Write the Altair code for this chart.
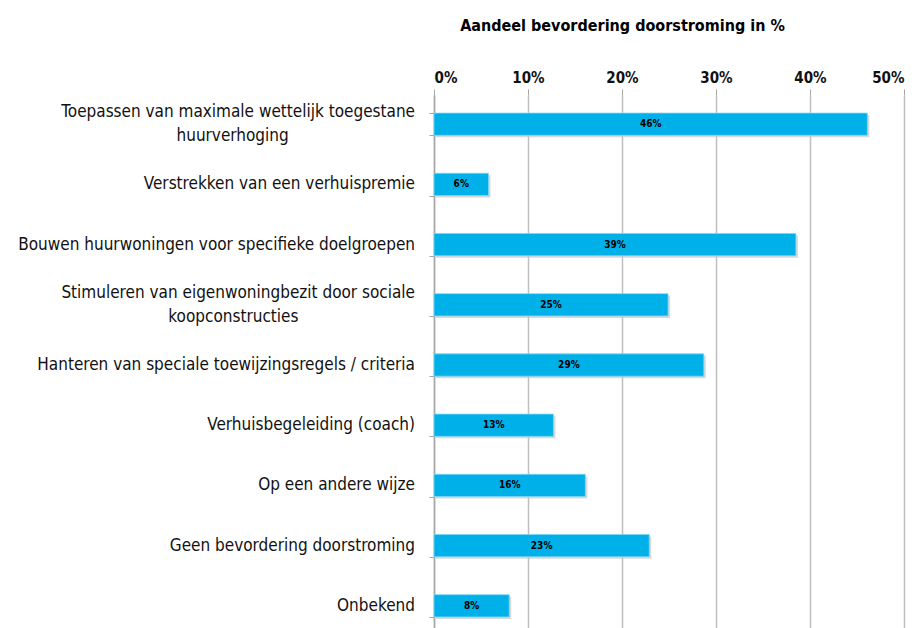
import altair as alt
import pandas as pd

categories = [
    "Toepassen van maximale wettelijk toegestane|huurverhoging",
    "Verstrekken van een verhuispremie",
    "Bouwen huurwoningen voor specifieke doelgroepen",
    "Stimuleren van eigenwoningbezit door sociale|koopconstructies",
    "Hanteren van  speciale toewijzingsregels / criteria",
    "Verhuisbegeleiding (coach)",
    "Op een andere wijze",
    "Geen bevordering doorstroming",
    "Onbekend",
]
values = [46.1, 5.8, 38.5, 24.9, 28.7, 12.7, 16.1, 22.9, 8.0]
labels = ["46%", "6%", "39%", "25%", "29%", "13%", "16%", "23%", "8%"]

df = pd.DataFrame({"cat": categories, "val": values, "lab": labels})
df["mid"] = df["val"] / 2

FONT = "DejaVu Sans Condensed"
NBS = "\u00a0" * 80
ZW = "\u200b"

l1 = "split(datum.cat,'|')[0]"
l2 = "split(datum.cat,'|')[1]"
two_line_expr = (
    f"{l1} + '|' + {l2} + substring('{NBS}', 0, round((length({l1}) - length({l2})) / 2 * 1.7)) + '{ZW}'"
)

yscale = alt.Scale(paddingInner=0.63, paddingOuter=0.3)

y = alt.Y(
    "cat:N",
    sort=categories,
    scale=yscale,
    axis=alt.Axis(
        title=None,
        labels=False,
        tickBand="extent",
        tickSize=5,
        tickColor="#A6A6A6",
        domainColor="#A6A6A6",
        domainWidth=1.5,
        grid=False,
    ),
)

xenc = alt.X(
    "val:Q",
    scale=alt.Scale(domain=[0, 50], nice=False),
    axis=alt.Axis(
        orient="top",
        values=[0, 10, 20, 30, 40, 50],
        labelExpr="datum.value + '%'",
        labelFont=FONT,
        labelFontSize=15,
        labelFontWeight=600,
        labelColor="#111111",
        labelPadding=4,
        tickSize=6,
        tickColor="#A6A6A6",
        domain=False,
        grid=True,
        gridColor="#BFBFBF",
        gridWidth=1.5,
        title="Aandeel bevordering doorstroming in %",
        titleFont=FONT,
        titleFontSize=16,
        titleFontWeight="bold",
        titleColor="#000000",
        titleX=188,
        titleY=-70,
        titleAlign="center",
        titleBaseline="middle",
    ),
)

base = alt.Chart(df)

shadow = base.mark_bar(color="#C8C8C8", opacity=0.7, xOffset=2, yOffset=2).encode(
    x=xenc, y=y
)

bars = base.mark_bar(color="#00B0E8", stroke="#7FD6F3", strokeWidth=0.8).encode(
    x=xenc, y=y
)

text = base.mark_text(font=FONT, fontSize=10, fontWeight="bold", color="#000000").encode(
    x="mid:Q",
    y=alt.Y("cat:N", sort=categories),
    text="lab:N",
)

single = (
    base.transform_filter("indexof(datum.cat,'|') < 0")
    .mark_text(font=FONT, fontSize=17, color="#111111", align="right", baseline="middle")
    .encode(x=alt.value(-19), y=alt.Y("cat:N", sort=categories), text="cat:N")
)

double = (
    base.transform_filter("indexof(datum.cat,'|') >= 0")
    .transform_calculate(txt=two_line_expr)
    .mark_text(font=FONT, fontSize=17, color="#111111", align="right", baseline="middle",
               lineBreak="|", lineHeight=24, dy=-12)
    .encode(x=alt.value(-19), y=alt.Y("cat:N", sort=categories), text="txt:N")
)

chart = (
    (shadow + bars + text + single + double)
    .properties(
        width=470,
        height=540,
        autosize=alt.AutoSizeParams(type="none"),
        padding={"left": 426, "top": 87, "right": 9, "bottom": 0},
    )
    .configure_view(stroke=None)
)

chart.save("out.html", embed_options={"renderer": "svg", "actions": False})
